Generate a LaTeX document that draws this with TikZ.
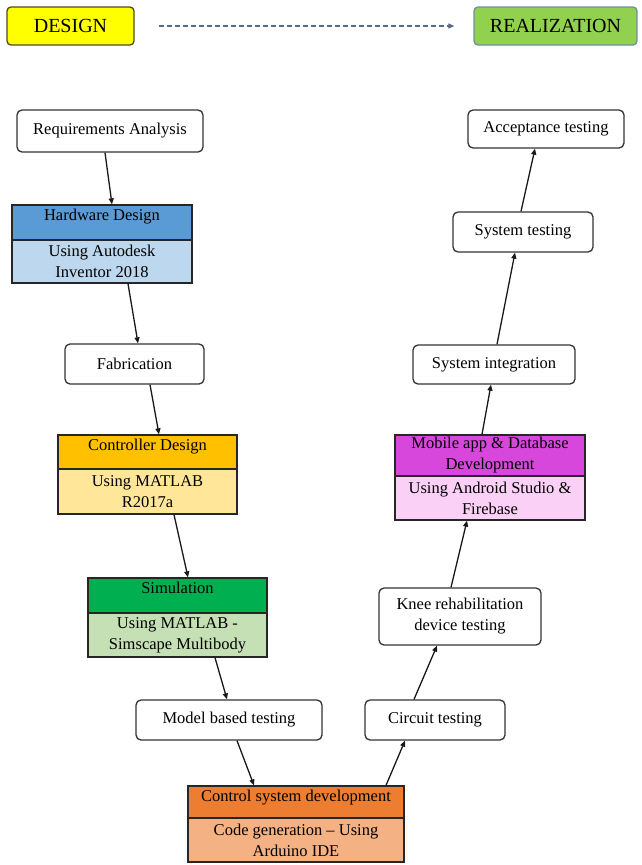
\documentclass[tikz,border=0pt]{standalone}
\usepackage{fontspec}
\setmainfont{Liberation Serif}
\usetikzlibrary{arrows.meta,calc}
\definecolor{hwtop}{HTML}{5B9BD5}
\definecolor{hwbot}{HTML}{BDD7EE}
\definecolor{cttop}{HTML}{FFC000}
\definecolor{ctbot}{HTML}{FFE699}
\definecolor{simtop}{HTML}{00B050}
\definecolor{simbot}{HTML}{C5E0B4}
\definecolor{ctrltop}{HTML}{ED7D31}
\definecolor{ctrlbot}{HTML}{F4B183}
\definecolor{mobtop}{HTML}{D847DC}
\definecolor{mobbot}{HTML}{FAD0F7}
\definecolor{desfill}{HTML}{FFFF00}
\definecolor{desdraw}{HTML}{4D4D1A}
\definecolor{realfill}{HTML}{92D050}
\definecolor{realdraw}{HTML}{6D8FA8}
\definecolor{dasharrow}{HTML}{5A6A80}
\begin{document}
\begin{tikzpicture}[x=1pt,y=-1pt,
  txt/.style={font=\fontsize{16.5}{21}\selectfont},
  rbox/.style={txt, draw=black!80, line width=1.3pt, rounded corners=5pt, fill=white, inner sep=2pt, align=center},
  sbox/.style={txt, draw=black!85, line width=1.3pt, inner sep=2pt, align=center},
  lbl/.style={txt, anchor=north, inner sep=4.5pt},
  phase/.style={font=\fontsize{20}{24}\selectfont, line width=1.3pt, rounded corners=4pt, minimum height=38pt},
  arr/.style={line width=1.3pt, black!90, -{Triangle[length=6pt,width=5pt]}}
]
\useasboundingbox (0,0) rectangle (641,865);

% phases
\node[phase, draw=desdraw, fill=desfill, minimum width=127pt] (design) at (70.5,26) {DESIGN};
\node[phase, draw=realdraw, fill=realfill, minimum width=163pt] (real) at (555.5,26) {REALIZATION};
\coordinate (ds) at ([xshift=24pt]design.east);
\coordinate (de) at ([xshift=-19pt]real.west);
\draw[dasharrow, line width=1.2pt, dash pattern=on 5pt off 3pt, -{Triangle[length=6pt,width=5pt]}] (ds) -- (de);

% left branch
\node[rbox, minimum width=186pt, minimum height=42pt] (req) at (110,131) {Requirements Analysis};

\node[sbox, fill=hwtop, minimum width=180pt, minimum height=35pt, label={[lbl]north:Hardware Design}] (hwT) at (102,222.5) {};
\node[sbox, fill=hwbot, minimum width=180pt, minimum height=43pt] (hwB) at (102,261.5) {Using Autodesk\\Inventor 2018};

\node[rbox, minimum width=139pt, minimum height=40pt] (fab) at (134.5,364) {Fabrication};

\node[sbox, fill=cttop, minimum width=179pt, minimum height=34pt, label={[lbl]north:Controller Design}] (ctT) at (147.5,452) {};
\node[sbox, fill=ctbot, minimum width=179pt, minimum height=45pt] (ctB) at (147.5,491.5) {Using MATLAB\\R2017a};

\node[sbox, fill=simtop, minimum width=179pt, minimum height=35pt, label={[lbl]north:Simulation}] (simT) at (177.5,595.5) {};
\node[sbox, fill=simbot, minimum width=179pt, minimum height=44pt] (simB) at (177.5,635) {Using MATLAB -\\Simscape Multibody};

\node[rbox, minimum width=186pt, minimum height=40pt] (mbt) at (229,720) {Model based testing};

% bottom
\node[sbox, fill=ctrltop, minimum width=216pt, minimum height=32pt, label={[lbl]north:Control system development}] (ctrlT) at (296,802) {};
\node[sbox, fill=ctrlbot, minimum width=216pt, minimum height=44pt] (ctrlB) at (296,840) {Code generation -- Using\\Arduino IDE};

% right branch
\node[rbox, minimum width=140pt, minimum height=40pt] (cir) at (435,720) {Circuit testing};
\node[rbox, minimum width=162pt, minimum height=57pt] (knee) at (460,616.5) {Knee rehabilitation\\device testing};

\node[sbox, fill=mobtop, minimum width=190pt, minimum height=41pt] (mobT) at (490,455.5) {Mobile app \& Database\\Development};
\node[sbox, fill=mobbot, minimum width=190pt, minimum height=44pt] (mobB) at (490,498) {Using Android Studio \&\\Firebase};

\node[rbox, minimum width=162pt, minimum height=39pt] (sint) at (494,364.5) {System integration};
\node[rbox, minimum width=140pt, minimum height=40pt] (stest) at (523,232) {System testing};
\node[rbox, minimum width=156pt, minimum height=38pt] (acc) at (546,129) {Acceptance testing};

% arrows
\draw[arr] ([xshift=-5pt]req.south) -- ([xshift=10pt]hwT.north);
\draw[arr] ([xshift=26pt]hwB.south) -- ([xshift=3.5pt]fab.north);
\draw[arr] ([xshift=15.5pt]fab.south) -- ([xshift=11.5pt]ctT.north);
\draw[arr] ([xshift=26.5pt]ctB.south) -- ([xshift=10.5pt]simT.north);
\draw[arr] ([xshift=37.5pt]simB.south) -- ([xshift=-2pt]mbt.north);
\draw[arr] ([xshift=8pt]mbt.south) -- ([xshift=-42pt]ctrlT.north);
\draw[arr] ([xshift=90pt]ctrlT.north) -- ([xshift=-30pt]cir.south);
\draw[arr] ([xshift=-21pt]cir.north) -- ([xshift=-23pt]knee.south);
\draw[arr] ([xshift=-9pt]knee.north) -- ([xshift=-23pt]mobB.south);
\draw[arr] ([xshift=-8pt]mobT.north) -- ([xshift=-3pt]sint.south);
\draw[arr] ([xshift=3pt]sint.north) -- ([xshift=-8pt]stest.south);
\draw[arr] ([xshift=-2pt]stest.north) -- ([xshift=-11pt]acc.south);
\end{tikzpicture}
\end{document}
